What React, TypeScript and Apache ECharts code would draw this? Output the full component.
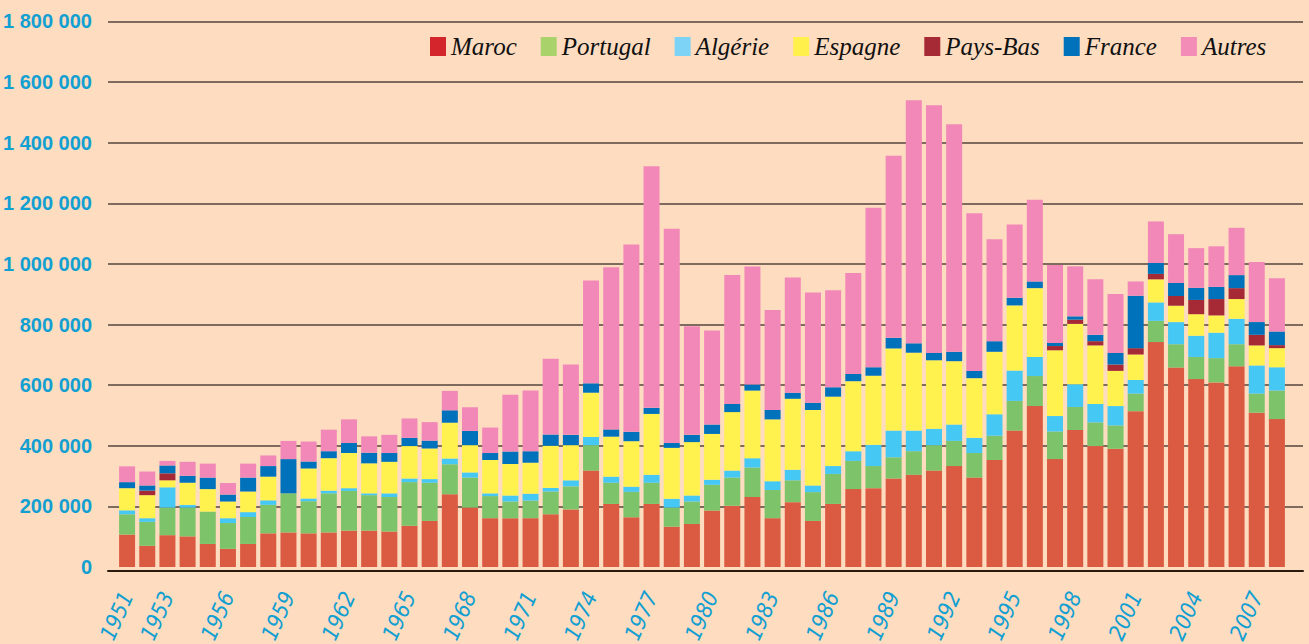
import React, { useEffect, useRef } from 'react';
import * as echarts from 'echarts';

const years = [
  1951, 1952, 1953, 1954, 1955, 1956, 1957, 1958, 1959, 1960,
  1961, 1962, 1963, 1964, 1965, 1966, 1967, 1968, 1969, 1970,
  1971, 1972, 1973, 1974, 1975, 1976, 1977, 1978, 1979, 1980,
  1981, 1982, 1983, 1984, 1985, 1986, 1987, 1988, 1989, 1990,
  1991, 1992, 1993, 1994, 1995, 1996, 1997, 1998, 1999, 2000,
  2001, 2002, 2003, 2004, 2005, 2006, 2007, 2008,
];

const yearTickLabels = [
  1951, 1953, 1956, 1959, 1962, 1965, 1968, 1971, 1974, 1977,
  1980, 1983, 1986, 1989, 1992, 1995, 1998, 2001, 2004, 2007,
];

const maroc = [
  107000, 70000, 105000, 101000, 76000, 60000, 76000, 111000, 114000, 111000,
  114000, 120000, 120000, 117000, 136000, 152000, 240000, 196000, 161000, 161000,
  161000, 174000, 190000, 318000, 208000, 164000, 208000, 133000, 142000, 186000,
  202000, 231000, 161000, 214000, 152000, 208000, 257000, 260000, 292000, 304000,
  318000, 333000, 295000, 353000, 450000, 531000, 356000, 452000, 399000, 390000,
  514000, 742000, 658000, 620000, 609000, 662000, 509000, 488000,
];

const portugal = [
  67000, 79000, 91000, 95000, 107000, 85000, 89000, 94000, 129000, 106000,
  129000, 131000, 117000, 114000, 144000, 126000, 99000, 99000, 73000, 55000,
  58000, 75000, 76000, 84000, 70000, 84000, 70000, 63000, 74000, 85000,
  93000, 97000, 93000, 72000, 95000, 99000, 93000, 73000, 70000, 78000,
  84000, 83000, 81000, 80000, 98000, 99000, 91000, 76000, 78000, 77000,
  58000, 70000, 77000, 73000, 80000, 73000, 63000, 94000,
];

const algerie = [
  13000, 12000, 67000, 9000, 0, 16000, 16000, 15000, 0, 9000,
  9000, 9000, 6000, 12000, 12000, 12000, 19000, 17000, 9000, 20000,
  23000, 12000, 20000, 27000, 20000, 17000, 26000, 29000, 20000, 17000,
  23000, 31000, 29000, 35000, 22000, 26000, 32000, 70000, 88000, 68000,
  54000, 54000, 50000, 71000, 100000, 63000, 51000, 75000, 61000, 64000,
  45000, 61000, 73000, 70000, 84000, 84000, 93000, 77000,
];

const espagne = [
  73000, 76000, 23000, 73000, 74000, 55000, 68000, 78000, 0, 99000,
  107000, 116000, 99000, 104000, 107000, 101000, 118000, 90000, 110000, 104000,
  102000, 139000, 116000, 146000, 132000, 150000, 201000, 168000, 176000, 151000,
  193000, 223000, 204000, 234000, 249000, 229000, 231000, 228000, 271000, 257000,
  226000, 209000, 197000, 206000, 215000, 227000, 217000, 199000, 193000, 116000,
  84000, 76000, 54000, 71000, 57000, 65000, 66000, 63000,
];

const paysBas = [
  0, 15000, 23000, 0, 0, 0, 0, 0, 0, 0,
  0, 0, 0, 0, 0, 0, 0, 0, 0, 0,
  0, 0, 0, 0, 0, 0, 0, 0, 0, 0,
  0, 0, 0, 0, 0, 0, 0, 0, 0, 0,
  0, 0, 0, 0, 0, 0, 14000, 14000, 14000, 21000,
  21000, 18000, 32000, 47000, 54000, 36000, 35000, 10000,
];

const france = [
  20000, 17000, 26000, 23000, 38000, 23000, 46000, 35000, 113000, 23000,
  23000, 33000, 35000, 29000, 27000, 26000, 41000, 47000, 23000, 41000,
  38000, 37000, 34000, 31000, 24000, 31000, 20000, 16000, 24000, 31000,
  27000, 20000, 31000, 20000, 24000, 31000, 24000, 28000, 35000, 31000,
  24000, 31000, 24000, 35000, 25000, 22000, 10000, 11000, 21000, 38000,
  173000, 36000, 43000, 40000, 40000, 43000, 42000, 45000,
];

const autres = [
  52000, 46000, 15000, 46000, 46000, 38000, 46000, 35000, 60000, 66000,
  71000, 78000, 54000, 60000, 64000, 61000, 64000, 78000, 84000, 187000,
  200000, 250000, 232000, 339000, 535000, 618000, 797000, 707000, 358000, 310000,
  425000, 389000, 330000, 380000, 364000, 320000, 333000, 526000, 601000, 802000,
  817000, 751000, 520000, 336000, 242000, 270000, 257000, 165000, 183000, 195000,
  47000, 137000, 161000, 131000, 134000, 156000, 198000, 176000,
];

const seriesDefs = [
  { name: 'Maroc', values: maroc, color: '#db5b42', legendColor: '#d4252d' },
  { name: 'Portugal', values: portugal, color: '#7cc36a', legendColor: '#a9d36a' },
  { name: 'Algérie', values: algerie, color: '#46c8f4', legendColor: '#7cd3f5' },
  { name: 'Espagne', values: espagne, color: '#fff24e', legendColor: '#fff04c' },
  { name: 'Pays-Bas', values: paysBas, color: '#a62a35', legendColor: '#a62a35' },
  { name: 'France', values: france, color: '#0072bb', legendColor: '#0072bb' },
  { name: 'Autres', values: autres, color: '#f288b7', legendColor: '#f48cb8' },
];

const BLUE = '#129fd1';
const Y_MAX = 1800000;
const Y_STEP = 200000;

function fmtThousands(v: number): string {
  return String(v).replace(/\B(?=(\d{3})+(?!\d))/g, ' ');
}

export default function App() {
  const ref = useRef<HTMLDivElement>(null);

  useEffect(() => {
    if (!ref.current) return;
    const chart = echarts.init(ref.current, null, { renderer: 'svg' });
    const gridTop = 21.4;
    const gridBottom = 77;
    const option: any = {
      animation: false,
      backgroundColor: '#fddcc0',
      grid: [
        { left: 117, right: 22, top: gridTop, bottom: gridBottom, outerBoundsMode: 'none', containLabel: false },
        { left: 108, right: 6, top: gridTop, bottom: gridBottom, outerBoundsMode: 'none', containLabel: false },
      ],
      legend: {
        left: 425,
        top: 29,
        icon: 'rect',
        itemWidth: 16,
        itemHeight: 19,
        itemGap: 24,
        textStyle: {
          fontFamily: "'Liberation Serif', serif",
          fontStyle: 'italic',
          fontSize: 25,
          color: '#111111',
        },
        data: seriesDefs.map((s) => ({ name: s.name, itemStyle: { color: s.legendColor } })),
      },
      xAxis: [
        {
          type: 'category',
          gridIndex: 0,
          data: years.map(String),
          offset: 4,
          axisLine: { show: false },
          axisTick: { show: false },
          splitLine: { show: false },
          axisLabel: {
            interval: (_i: number, value: string) => yearTickLabels.includes(Number(value)),
            rotate: 66,
            margin: 22,
            color: BLUE,
            fontSize: 22,
            fontStyle: 'italic',
            fontFamily: "'DejaVu Sans Condensed', 'DejaVu Sans', sans-serif",
          },
        },
        {
          type: 'value',
          gridIndex: 1,
          min: 0,
          max: 1,
          offset: 4,
          axisLine: { show: true, onZero: false, lineStyle: { color: '#2a1a10', width: 2 } },
          axisTick: { show: false },
          axisLabel: { show: false },
          splitLine: { show: false },
        },
      ],
      yAxis: [
        {
          type: 'value',
          gridIndex: 0,
          min: 0,
          max: Y_MAX,
          interval: Y_STEP,
          axisLine: { show: false },
          axisTick: { show: false },
          axisLabel: { show: false },
          splitLine: { show: false },
        },
        {
          type: 'value',
          gridIndex: 1,
          min: 0,
          max: Y_MAX,
          interval: Y_STEP,
          axisLine: { show: false },
          axisTick: { show: false },
          splitLine: {
            show: true,
            showMinLine: false,
            lineStyle: { color: '#54463e', width: 1.6 },
          },
          axisLabel: {
            margin: 16,
            color: BLUE,
            fontSize: 20,
            fontWeight: 'bold',
            fontFamily: "'Liberation Sans', Arial, sans-serif",
            formatter: (v: number) => fmtThousands(v),
          },
        },
      ],
      series: seriesDefs.map((s) => ({
        name: s.name,
        type: 'bar',
        stack: 'total',
        xAxisIndex: 0,
        yAxisIndex: 0,
        barWidth: 16,
        itemStyle: { color: s.color },
        data: s.values,
      })),
    };
    chart.setOption(option);
    return () => chart.dispose();
  }, []);

  return (
    <div
      ref={ref}
      style={{ position: 'fixed', left: 0, top: 0, width: 1309, height: 644, background: '#fddcc0' }}
    />
  );
}
